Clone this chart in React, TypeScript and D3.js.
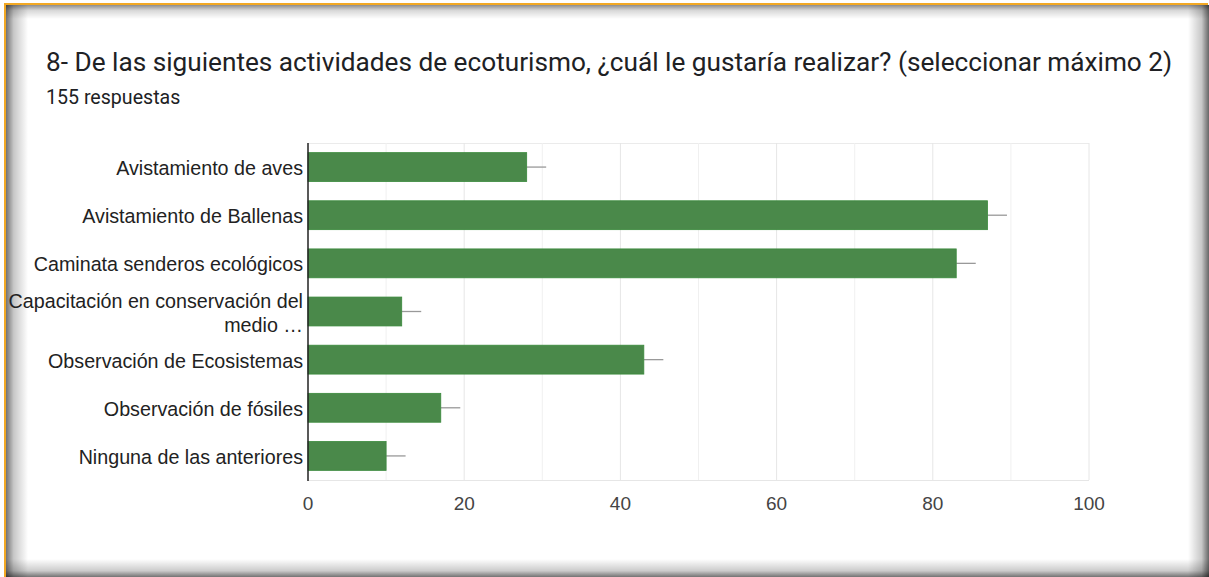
import React from "react";
import * as d3 from "d3";

const categories = [
  ["Avistamiento de aves"],
  ["Avistamiento de Ballenas"],
  ["Caminata senderos ecológicos"],
  ["Capacitación en conservación del", "medio …"],
  ["Observación de Ecosistemas"],
  ["Observación de fósiles"],
  ["Ninguna de las anteriores"],
];
const values = [28, 87, 83, 12, 43, 17, 10];
const majorTicks = [0, 20, 40, 60, 80, 100];
const minorTicks = [10, 30, 50, 70, 90];

const W = 1209;
const H = 577;

export default function App() {
  const x = d3.scaleLinear().domain([0, 100]).range([308, 1089]);
  const y = d3
    .scaleBand<number>()
    .domain(d3.range(categories.length))
    .range([143, 480])
    .paddingInner(0.4)
    .paddingOuter(0.2);
  const bw = y.bandwidth();
  const whisker = 19.5;

  return (
    <svg
      width={W}
      height={H}
      style={{ position: "absolute", left: 0, top: 0 }}
      fontFamily="Liberation Sans, Arial, sans-serif"
    >
      <defs>
        <linearGradient id="shL" x1="0" x2="1" y1="0" y2="0">
          <stop offset="0" stopColor="#000" stopOpacity="0.55" />
          <stop offset="0.35" stopColor="#000" stopOpacity="0.22" />
          <stop offset="1" stopColor="#000" stopOpacity="0" />
        </linearGradient>
        <linearGradient id="shR" x1="1" x2="0" y1="0" y2="0">
          <stop offset="0" stopColor="#000" stopOpacity="0.6" />
          <stop offset="0.35" stopColor="#000" stopOpacity="0.22" />
          <stop offset="1" stopColor="#000" stopOpacity="0" />
        </linearGradient>
        <linearGradient id="shT" x1="0" x2="0" y1="0" y2="1">
          <stop offset="0" stopColor="#000" stopOpacity="0.45" />
          <stop offset="0.4" stopColor="#000" stopOpacity="0.15" />
          <stop offset="1" stopColor="#000" stopOpacity="0" />
        </linearGradient>
        <linearGradient id="shB" x1="0" x2="0" y1="1" y2="0">
          <stop offset="0" stopColor="#000" stopOpacity="0.55" />
          <stop offset="0.35" stopColor="#000" stopOpacity="0.2" />
          <stop offset="1" stopColor="#000" stopOpacity="0" />
        </linearGradient>
      </defs>
      <rect x={0} y={0} width={W} height={H} fill="#fff" />
      {/* frame shadows */}
      <rect x={6} y={5} width={22} height={H - 5} fill="url(#shL)" />
      <rect x={1188} y={5} width={21} height={H - 5} fill="url(#shR)" />
      <rect x={6} y={5} width={W - 6} height={14} fill="url(#shT)" />
      <rect x={6} y={559} width={W - 6} height={18} fill="url(#shB)" />
      {/* orange frame */}
      <rect x={4} y={3} width={1204} height={2} fill="#f2a823" />
      <rect x={4} y={3} width={2} height={H - 3} fill="#f2a823" />

      {/* title */}
      <text x={46} y={71} fontFamily="Roboto, sans-serif" fontSize={26.2} fill="#202124">
        8- De las siguientes actividades de ecoturismo, ¿cuál le gustaría realizar? (seleccionar máximo 2)
      </text>
      <text x={46} y={103.5} fontFamily="Roboto, sans-serif" fontSize={19.6} fill="#202124">
        155 respuestas
      </text>

      {/* grid */}
      <line x1={308} x2={1089} y1={143.5} y2={143.5} stroke="#ebebeb" />
      <line x1={308} x2={1089} y1={480.5} y2={480.5} stroke="#e6e6e6" />
      {minorTicks.map((t) => (
        <line key={"m" + t} x1={x(t)} x2={x(t)} y1={143} y2={480} stroke="#f0f0f0" />
      ))}
      {majorTicks.slice(1).map((t) => (
        <line key={"M" + t} x1={x(t)} x2={x(t)} y1={143} y2={480} stroke="#e6e6e6" />
      ))}

      {/* bars */}
      {values.map((v, i) => {
        const y0 = y(i)!;
        return (
          <g key={i}>
            <line
              x1={x(v)}
              x2={x(v) + whisker}
              y1={y0 + bw / 2}
              y2={y0 + bw / 2}
              stroke="#999"
              strokeWidth={1.3}
            />
            <rect
              x={x(0)}
              y={y0}
              width={x(v) - x(0)}
              height={bw}
              fill="#4a894a"
              stroke="#3a8a3c"
              strokeWidth={0.8}
            />
          </g>
        );
      })}

      {/* axis line */}
      <line x1={308} x2={308} y1={143} y2={481} stroke="#222" strokeWidth={1.5} />

      {/* category labels */}
      {categories.map((lines, i) => {
        const cy = y(i)! + bw / 2;
        const lh = 24;
        const start = cy - ((lines.length - 1) * lh) / 2;
        return (
          <text key={i} textAnchor="end" fontSize={19.7} fill="#222">
            {lines.map((l, j) => (
              <tspan key={j} x={303} y={start + j * lh + 8}>
                {l}
              </tspan>
            ))}
          </text>
        );
      })}

      {/* x tick labels */}
      {majorTicks.map((t) => (
        <text key={t} x={x(t)} y={509.5} textAnchor="middle" fontSize={19} fill="#444">
          {t}
        </text>
      ))}
    </svg>
  );
}
